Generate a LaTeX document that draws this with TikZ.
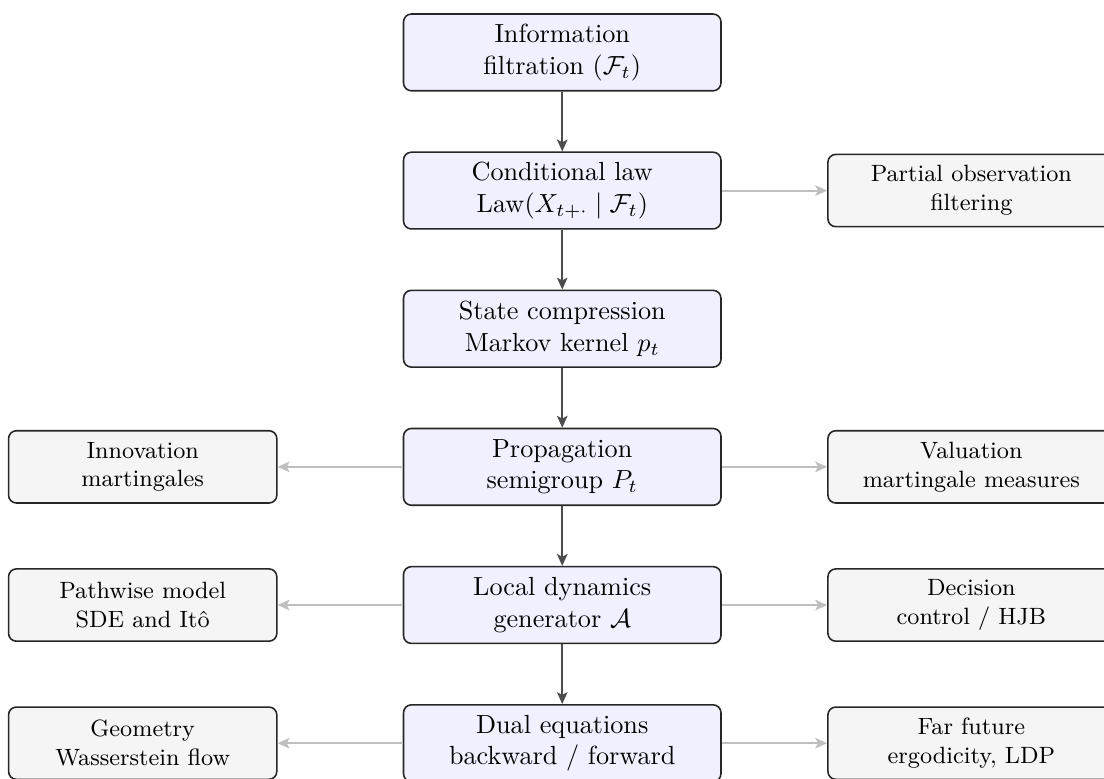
\documentclass[tikz,border=0pt]{standalone}
\usepackage{amsmath}
\usepackage{amssymb}
\usetikzlibrary{arrows.meta}

\begin{document}
\begin{tikzpicture}[
    mainbox/.style = {draw=black!85, semithick, fill=blue!6, rounded corners=3pt,
                      align=center, minimum width=4.26cm, minimum height=1.03cm, inner sep=2pt},
    sidebox/.style = {draw=black!85, semithick, fill=black!4, rounded corners=3pt,
                      align=center, minimum width=3.6cm, minimum height=0.97cm, inner sep=2pt,
                      font=\small},
    rightbox/.style = {sidebox, minimum width=3.85cm},
    flow/.style    = {black!70, thick, -{Stealth[length=4.5pt,width=4pt,inset=1pt]}},
    branch/.style  = {black!25, thick, -{Stealth[length=4.5pt,width=4pt,inset=1pt]}}]
                \useasboundingbox (-7.545,0.703) rectangle (7.27,-9.75);
                % central chain
                \node[mainbox] (info) at (0,0) {Information\\ filtration $(\mathcal{F}_t)$};
                \node[mainbox] (cond) at (0,-1.854) {Conditional law\\ $\mathrm{Law}(X_{t+\cdot}\mid\mathcal{F}_t)$};
                \node[mainbox] (state) at (0,-3.708) {State compression\\ Markov kernel $p_t$};
                \node[mainbox] (prop) at (0,-5.562) {Propagation\\ semigroup $P_t$};
                \node[mainbox] (gen) at (0,-7.416) {Local dynamics\\ generator $\mathcal{A}$};
                \node[mainbox] (dual) at (0,-9.27) {Dual equations\\ backward / forward};
                % side boxes
                \node[rightbox] (filt) at (5.49,-1.854) {Partial observation\\ filtering};
                \node[sidebox] (innov) at (-5.63,-5.562) {Innovation\\ martingales};
                \node[rightbox] (valu) at (5.49,-5.562) {Valuation\\ martingale measures};
                \node[sidebox] (path) at (-5.63,-7.416) {Pathwise model\\ SDE and It\^o};
                \node[rightbox] (deci) at (5.49,-7.416) {Decision\\ control / HJB};
                \node[sidebox] (geom) at (-5.63,-9.27) {Geometry\\ Wasserstein flow};
                \node[rightbox] (far) at (5.49,-9.27) {Far future\\ ergodicity, LDP};
                % arrows
                \draw[flow] (info) -- (cond);
                \draw[flow] (cond) -- (state);
                \draw[flow] (state) -- (prop);
                \draw[flow] (prop) -- (gen);
                \draw[flow] (gen) -- (dual);
                \draw[branch] (cond) -- (filt);
                \draw[branch] (prop) -- (innov);
                \draw[branch] (prop) -- (valu);
                \draw[branch] (gen) -- (path);
                \draw[branch] (gen) -- (deci);
                \draw[branch] (dual) -- (geom);
                \draw[branch] (dual) -- (far);
            \end{tikzpicture}
\end{document}
